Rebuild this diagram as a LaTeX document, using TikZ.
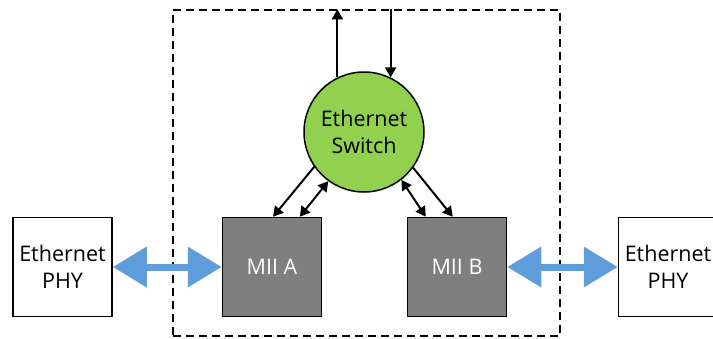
\documentclass[tikz,border=0pt]{standalone}
\usepackage{fontspec}
\setmainfont{Open Sans}
\usetikzlibrary{arrows.meta,calc}

\definecolor{switchgreen}{HTML}{92D050}
\definecolor{miigray}{HTML}{7F7F7F}
\definecolor{linkblue}{HTML}{5F9DDA}

\tikzset{
  lbl/.style={font=\fontsize{21.5}{27}\selectfont, align=center},
  phybox/.style={lbl, draw=black, line width=1.5pt, fill=white,
    minimum width=99pt, minimum height=99pt, inner sep=0pt},
  miibox/.style={phybox, fill=miigray, text=white},
  switchnode/.style={lbl, circle, draw=black, line width=1.5pt, fill=switchgreen,
    minimum size=120pt, inner sep=0pt},
  boundary/.style={draw=black, line width=1.3pt, dash pattern=on 8pt off 5pt,
    minimum width=387pt, minimum height=326pt, inner sep=0pt},
  ctrl/.style={draw=black, line width=2pt, -{Triangle[width=11pt,length=10pt]}},
  ctrlboth/.style={ctrl, {Triangle[width=11pt,length=10pt]}-{Triangle[width=11pt,length=10pt]}},
  wire/.style={draw=linkblue, line width=7pt,
    {Triangle[width=39pt,length=34pt]}-{Triangle[width=39pt,length=34pt]}},
}

\begin{document}
\begin{tikzpicture}[x=1pt, y=-1pt]
  \useasboundingbox (0,0) rectangle (713,338);

  % device outline
  \node[boundary] (box) at (366.5,173) {};

  % switch core and MAC interfaces
  \node[switchnode] (sw) at (364,132) {Ethernet\\Switch};
  \node[miibox] (miiA) at (272,267) {MII A};
  \node[miibox] (miiB) at (457,267) {MII B};

  % external PHYs
  \node[phybox] (phyL) at (62.5,267) {Ethernet\\PHY};
  \node[phybox] (phyR) at (668,267) {Ethernet\\PHY};

  % host side of the switch
  \draw[ctrl] (sw.116.7) -- (sw.116.7 |- box.north);
  \draw[ctrl] (sw.64.3 |- box.north) -- (sw.64.3);

  % switch to MII ports
  \draw[ctrl] (sw.215.2) -- ($(miiA.north)+(1,0)$);
  \draw[ctrlboth] (sw.234.2) -- ($(miiA.north west)+(78,0)$);
  \draw[ctrlboth] (sw.-52) -- ($(miiB.north west)+(19,0)$);
  \draw[ctrl] (sw.-36.3) -- ($(miiB.north west)+(46,0)$);

  % MII links to the PHYs
  \draw[wire] (phyL.east) -- (miiA.west);
  \draw[wire] (miiB.east) -- (phyR.west);
\end{tikzpicture}
\end{document}
